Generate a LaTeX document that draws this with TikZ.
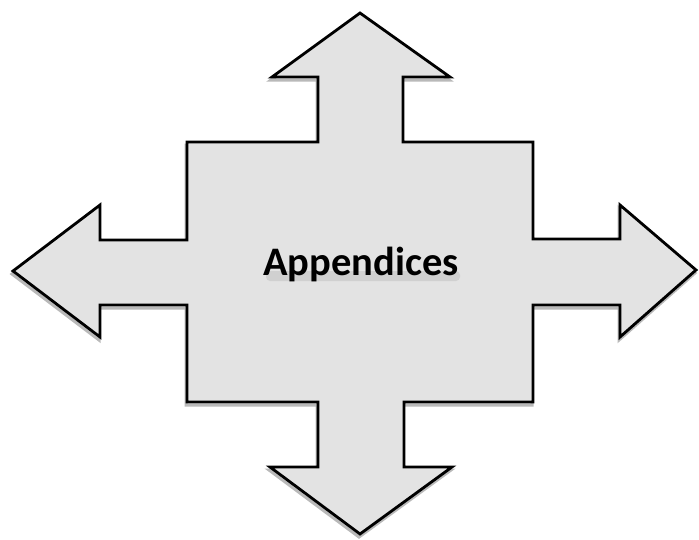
\documentclass[tikz,border=0pt]{standalone}
\usepackage{fontspec}
\newfontfamily\labelfont{Carlito}
\begin{document}
\begin{tikzpicture}[x=1pt,y=-1pt,
  arrowshape/.style={draw=black, line width=2.8pt, line join=miter, fill=gray!22},
  shadowshape/.style={draw=gray!55, line width=3pt, line join=miter},
  textshadow/.style={fill=gray!40, draw=none, rounded corners=4pt, opacity=0.8},
  labeltext/.style={font=\labelfont\bfseries\fontsize{40.5}{40.5}\selectfont, text=black, inner sep=0pt}]
\useasboundingbox (0,0) rectangle (699,539);
\def\quadarrow{(360,13) -- (450,77) -- (403,77) -- (403,142) -- (533,142) -- (533,239)
  -- (620,239) -- (620,205) -- (696,270) -- (620,337) -- (620,305) -- (533,305)
  -- (533,402) -- (404,402) -- (404,467) -- (452,467) -- (360,534) -- (270,467)
  -- (318,467) -- (318,402) -- (187,402) -- (187,305) -- (100,305) -- (100,337)
  -- (13,271) -- (100,205) -- (100,240) -- (187,240) -- (187,142) -- (318,142)
  -- (318,77) -- (272,77) -- cycle}
\draw[shadowshape, shift={(-1,3)}] \quadarrow;
\draw[arrowshape] \quadarrow;
\fill[textshadow] (266,271) rectangle (460,281);
\node[labeltext] (lab) at (361,264) {Appendices};
\end{tikzpicture}
\end{document}
